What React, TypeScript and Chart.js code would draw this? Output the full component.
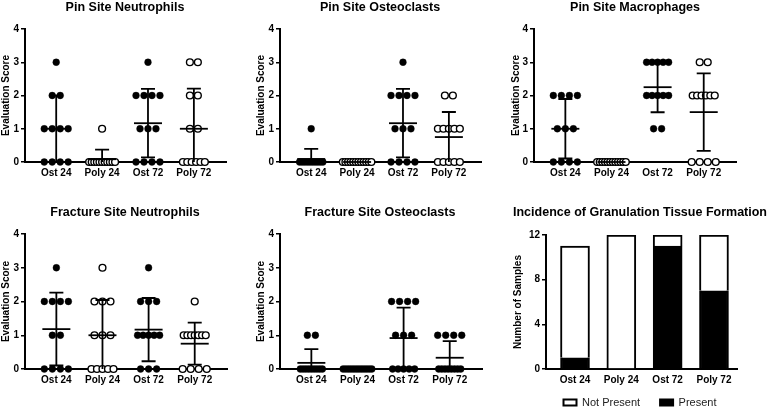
import React, { useEffect, useRef } from 'react';
import { Chart, registerables } from 'chart.js';
Chart.register(...registerables);

// ---------- data ----------
const categories = ['Ost 24', 'Poly 24', 'Ost 72', 'Poly 72'];
const scoreTicks = [0, 1, 2, 3, 4];
const sampleTicks = [0, 4, 8, 12];

// Pin Site Neutrophils
const pinNeutOst24 = [3, 2, 2, 1, 1, 1, 1, 0, 0, 0, 0];
const pinNeutPoly24 = [1, 0, 0, 0, 0, 0, 0, 0, 0, 0, 0, 0];
const pinNeutOst72 = [3, 2, 2, 2, 2, 1, 1, 1, 0, 0, 0, 0];
const pinNeutPoly72 = [3, 3, 2, 2, 1, 1, 0, 0, 0, 0, 0, 0];

// Pin Site Osteoclasts
const pinOstOst24 = [1, 0, 0, 0, 0, 0, 0, 0, 0, 0, 0];
const pinOstPoly24 = [0, 0, 0, 0, 0, 0, 0, 0, 0, 0, 0, 0];
const pinOstOst72 = [3, 2, 2, 2, 2, 1, 1, 1, 0, 0, 0, 0];
const pinOstPoly72 = [2, 2, 1, 1, 1, 1, 1, 0, 0, 0, 0, 0];

// Pin Site Macrophages
const pinMacOst24 = [2, 2, 2, 2, 1, 1, 1, 0, 0, 0, 0];
const pinMacPoly24 = [0, 0, 0, 0, 0, 0, 0, 0, 0, 0, 0, 0];
const pinMacOst72 = [3, 3, 3, 3, 3, 2, 2, 2, 2, 2, 1, 1];
const pinMacPoly72 = [3, 3, 2, 2, 2, 2, 2, 2, 0, 0, 0, 0];

// Fracture Site Neutrophils
const fxNeutOst24 = [3, 2, 2, 2, 2, 1, 1, 0, 0, 0, 0];
const fxNeutPoly24 = [3, 2, 2, 2, 1, 1, 1, 0, 0, 0, 0, 0];
const fxNeutOst72 = [3, 2, 2, 2, 1, 1, 1, 1, 1, 0, 0, 0];
const fxNeutPoly72 = [2, 1, 1, 1, 1, 1, 1, 1, 0, 0, 0, 0];

// Fracture Site Osteoclasts
const fxOstOst24 = [1, 1, 0, 0, 0, 0, 0, 0, 0, 0, 0];
const fxOstPoly24 = [0, 0, 0, 0, 0, 0, 0, 0, 0, 0, 0, 0];
const fxOstOst72 = [2, 2, 2, 2, 1, 1, 1, 0, 0, 0, 0, 0];
const fxOstPoly72 = [1, 1, 1, 1, 0, 0, 0, 0, 0, 0, 0, 0];

// Incidence of Granulation Tissue Formation
const granPresent = [1, 0, 11, 7];
const granNotPresent = [10, 12, 1, 5];

// ---------- helpers ----------
const FONT = "'Liberation Sans', Arial, Helvetica, sans-serif";
const PX_PER_UNIT = 46;

const mean = (a: number[]) => a.reduce((s, v) => s + v, 0) / a.length;
const sd = (a: number[]) => {
  const m = mean(a);
  return Math.sqrt(a.reduce((s, v) => s + (v - m) * (v - m), 0) / (a.length - 1));
};

function spreadPoints(vals: number[], ci: number) {
  const counts = new Map<number, number>();
  vals.forEach((v) => counts.set(v, (counts.get(v) || 0) + 1));
  const pts: { x: number; y: number }[] = [];
  counts.forEach((n, v) => {
    const spacing = n <= 4 ? 8 : Math.max(2.6, 22 / (n - 1));
    for (let k = 0; k < n; k++) {
      pts.push({ x: ci + ((k - (n - 1) / 2) * spacing) / PX_PER_UNIT, y: v });
    }
  });
  return pts;
}

// invisible right-hand spacer axis so that the plot ends before the panel edge
const spacerAxis = (w: number) => ({
  type: 'linear',
  position: 'right',
  display: true,
  grid: { display: false, drawTicks: false },
  border: { display: false },
  ticks: { display: false },
  afterFit: (s: any) => {
    s.width = w;
  },
});

type ScatterSpec = {
  title: string;
  groups: number[][];
  open: boolean[];
  left: number;
  top: number;
  width: number;
  height: number;
  yWidth: number;
  padRight: number;
  titlePad: { top: number; bottom: number };
  xHeight: number;
};

function ScatterPanel({ spec }: { spec: ScatterSpec }) {
  const ref = useRef<HTMLCanvasElement>(null);
  useEffect(() => {
    const stats = spec.groups.map((g) => ({ m: mean(g), s: sd(g) }));
    const errorBars = {
      id: 'errorBars',
      afterDatasetsDraw(chart: any) {
        const { ctx, scales } = chart;
        const xs = scales.x;
        const ys = scales.y;
        ctx.save();
        ctx.strokeStyle = '#000';
        ctx.lineWidth = 1.8;
        stats.forEach((st, i) => {
          const x = xs.getPixelForValue(i);
          const ym = ys.getPixelForValue(st.m);
          ctx.beginPath();
          ctx.moveTo(x - 14, ym);
          ctx.lineTo(x + 14, ym);
          ctx.stroke();
          if (st.s > 0) {
            const hi = ys.getPixelForValue(st.m + st.s);
            const loVal = st.m - st.s;
            const lo = ys.getPixelForValue(Math.max(0, loVal));
            ctx.beginPath();
            ctx.moveTo(x, lo);
            ctx.lineTo(x, hi);
            ctx.moveTo(x - 7, hi);
            ctx.lineTo(x + 7, hi);
            if (loVal > 0) {
              ctx.moveTo(x - 7, lo);
              ctx.lineTo(x + 7, lo);
            }
            ctx.stroke();
          }
        });
        ctx.restore();
      },
    };
    const chart = new Chart(ref.current as HTMLCanvasElement, {
      type: 'scatter',
      data: {
        datasets: spec.groups.map((vals, ci) => ({
          label: categories[ci],
          data: spreadPoints(vals, ci),
          xAxisID: 'x',
          yAxisID: 'y',
          pointRadius: 3.4,
          pointHoverRadius: 3.4,
          pointBackgroundColor: spec.open[ci] ? '#fff' : '#000',
          pointBorderColor: '#000',
          pointBorderWidth: spec.open[ci] ? 1.4 : 0.4,
          clip: false as any,
        })),
      },
      options: {
        animation: false,
        responsive: false,
        layout: { padding: 0 },
        plugins: {
          legend: { display: false },
          tooltip: { enabled: false },
          title: {
            display: true,
            text: spec.title,
            color: '#000',
            font: { family: FONT, size: 12.5, weight: 'bold' },
            padding: spec.titlePad,
          },
        },
        scales: {
          x: {
            type: 'linear',
            min: -0.68,
            max: 3.7,
            afterBuildTicks: (s: any) => {
              s.ticks = categories.map((_, i) => ({ value: i }));
            },
            afterFit: (s: any) => {
              s.height = spec.xHeight;
            },
            ticks: {
              callback: (v: any) => categories[v as number],
              color: '#000',
              font: { family: FONT, size: 10, weight: 'bold' },
              padding: 5,
              autoSkip: false,
              maxRotation: 0,
            },
            grid: { display: false, drawTicks: false },
            border: { display: true, color: '#000', width: 2 },
          },
          y: {
            type: 'linear',
            min: 0,
            max: 4,
            afterBuildTicks: (s: any) => {
              s.ticks = scoreTicks.map((v) => ({ value: v }));
            },
            afterFit: (s: any) => {
              s.width = spec.yWidth;
            },
            ticks: {
              color: '#000',
              font: { family: FONT, size: 10, weight: 'bold' },
              padding: 2,
            },
            grid: {
              display: true,
              drawOnChartArea: false,
              drawTicks: true,
              tickLength: 4,
              color: '#000',
              lineWidth: 1.5,
            },
            border: { display: true, color: '#000', width: 2 },
            title: {
              display: true,
              text: 'Evaluation Score',
              color: '#000',
              font: { family: FONT, size: 10, weight: 'bold' },
              padding: { top: 0, bottom: 0 },
            },
          },
          yr: spacerAxis(spec.padRight),
        },
      },
      plugins: [errorBars],
    } as any);
    return () => chart.destroy();
  }, []);
  return (
    <canvas
      ref={ref}
      width={spec.width}
      height={spec.height}
      style={{ position: 'absolute', left: spec.left, top: spec.top, width: spec.width, height: spec.height }}
    />
  );
}

function BarPanel() {
  const ref = useRef<HTMLCanvasElement>(null);
  useEffect(() => {
    const chart = new Chart(ref.current as HTMLCanvasElement, {
      type: 'bar',
      data: {
        datasets: [
          {
            label: 'Present',
            data: granPresent.map((v, i) => ({ x: i, y: v })),
            xAxisID: 'x',
            yAxisID: 'y',
            backgroundColor: '#000',
            borderColor: '#000',
            borderWidth: 2,
            barThickness: 29,
          },
          {
            label: 'Not Present',
            data: granNotPresent.map((v, i) => ({ x: i, y: v })),
            xAxisID: 'x',
            yAxisID: 'y',
            backgroundColor: '#fff',
            borderColor: '#000',
            borderWidth: 2,
            barThickness: 29,
          },
        ],
      },
      options: {
        animation: false,
        responsive: false,
        layout: { padding: 0 },
        plugins: {
          tooltip: { enabled: false },
          title: {
            display: true,
            text: 'Incidence of Granulation Tissue Formation',
            color: '#000',
            font: { family: FONT, size: 12.5, weight: 'bold' },
            padding: { top: 5.5, bottom: 14.5 },
          },
          legend: {
            display: true,
            position: 'bottom',
            reverse: true,
            labels: {
              boxWidth: 13,
              boxHeight: 6,
              padding: 20,
              color: '#222',
              font: { family: FONT, size: 11 },
            },
          },
        },
        scales: {
          x: {
            type: 'linear',
            stacked: true,
            offset: false,
            min: -0.626,
            max: 3.497,
            afterBuildTicks: (s: any) => {
              s.ticks = categories.map((_, i) => ({ value: i }));
            },
            afterFit: (s: any) => {
              s.height = 8;
            },
            ticks: {
              callback: (v: any) => categories[v as number],
              color: '#000',
              font: { family: FONT, size: 10, weight: 'bold' },
              mirror: true,
              padding: -17,
              autoSkip: false,
              maxRotation: 0,
            },
            grid: { display: false, drawTicks: false, offset: false },
            border: { display: true, color: '#000', width: 2 },
          },
          y: {
            type: 'linear',
            stacked: true,
            min: 0,
            max: 12,
            afterBuildTicks: (s: any) => {
              s.ticks = sampleTicks.map((v) => ({ value: v }));
            },
            afterFit: (s: any) => {
              s.width = 36;
            },
            ticks: {
              color: '#000',
              font: { family: FONT, size: 10, weight: 'bold' },
              padding: 2,
            },
            grid: {
              display: true,
              drawOnChartArea: false,
              drawTicks: true,
              tickLength: 4,
              color: '#000',
              lineWidth: 1.5,
            },
            border: { display: true, color: '#000', width: 2 },
            title: {
              display: true,
              text: 'Number of Samples',
              color: '#000',
              font: { family: FONT, size: 10, weight: 'bold' },
              padding: { top: 2.5, bottom: 0 },
            },
          },
          yr: spacerAxis(33),
        },
      },
    } as any);
    return () => chart.destroy();
  }, []);
  return (
    <canvas
      ref={ref}
      width={260}
      height={218}
      style={{ position: 'absolute', left: 510, top: 200, width: 260, height: 218 }}
    />
  );
}

const rowTop = { top: 0, bottom: 14 };
const rowBottom = { top: 5.5, bottom: 13.5 };

const panels: ScatterSpec[] = [
  {
    title: 'Pin Site Neutrophils',
    groups: [pinNeutOst24, pinNeutPoly24, pinNeutOst72, pinNeutPoly72],
    open: [false, true, false, true],
    left: 0, top: 0, width: 250, height: 200, yWidth: 25, padRight: 24, titlePad: rowTop, xHeight: 38,
  },
  {
    title: 'Pin Site Osteoclasts',
    groups: [pinOstOst24, pinOstPoly24, pinOstOst72, pinOstPoly72],
    open: [false, true, false, true],
    left: 255, top: 0, width: 250, height: 200, yWidth: 25, padRight: 24, titlePad: rowTop, xHeight: 38,
  },
  {
    title: 'Pin Site Macrophages',
    groups: [pinMacOst24, pinMacPoly24, pinMacOst72, pinMacPoly72],
    open: [false, true, false, true],
    left: 510, top: 0, width: 250, height: 200, yWidth: 24, padRight: 24, titlePad: rowTop, xHeight: 38,
  },
  {
    title: 'Fracture Site Neutrophils',
    groups: [fxNeutOst24, fxNeutPoly24, fxNeutOst72, fxNeutPoly72],
    open: [false, true, false, true],
    left: 0, top: 200, width: 250, height: 209, yWidth: 25, padRight: 23, titlePad: rowBottom, xHeight: 40,
  },
  {
    title: 'Fracture Site Osteoclasts',
    groups: [fxOstOst24, fxOstPoly24, fxOstOst72, fxOstPoly72],
    open: [false, false, false, false],
    left: 255, top: 200, width: 250, height: 209, yWidth: 25, padRight: 23, titlePad: rowBottom, xHeight: 40,
  },
];

export default function App() {
  return (
    <div
      style={{
        position: 'fixed',
        left: 0,
        top: 0,
        width: 778,
        height: 409,
        overflow: 'hidden',
        background: '#fff',
      }}
    >
      {panels.map((p) => (
        <ScatterPanel key={p.title} spec={p} />
      ))}
      <BarPanel />
    </div>
  );
}
